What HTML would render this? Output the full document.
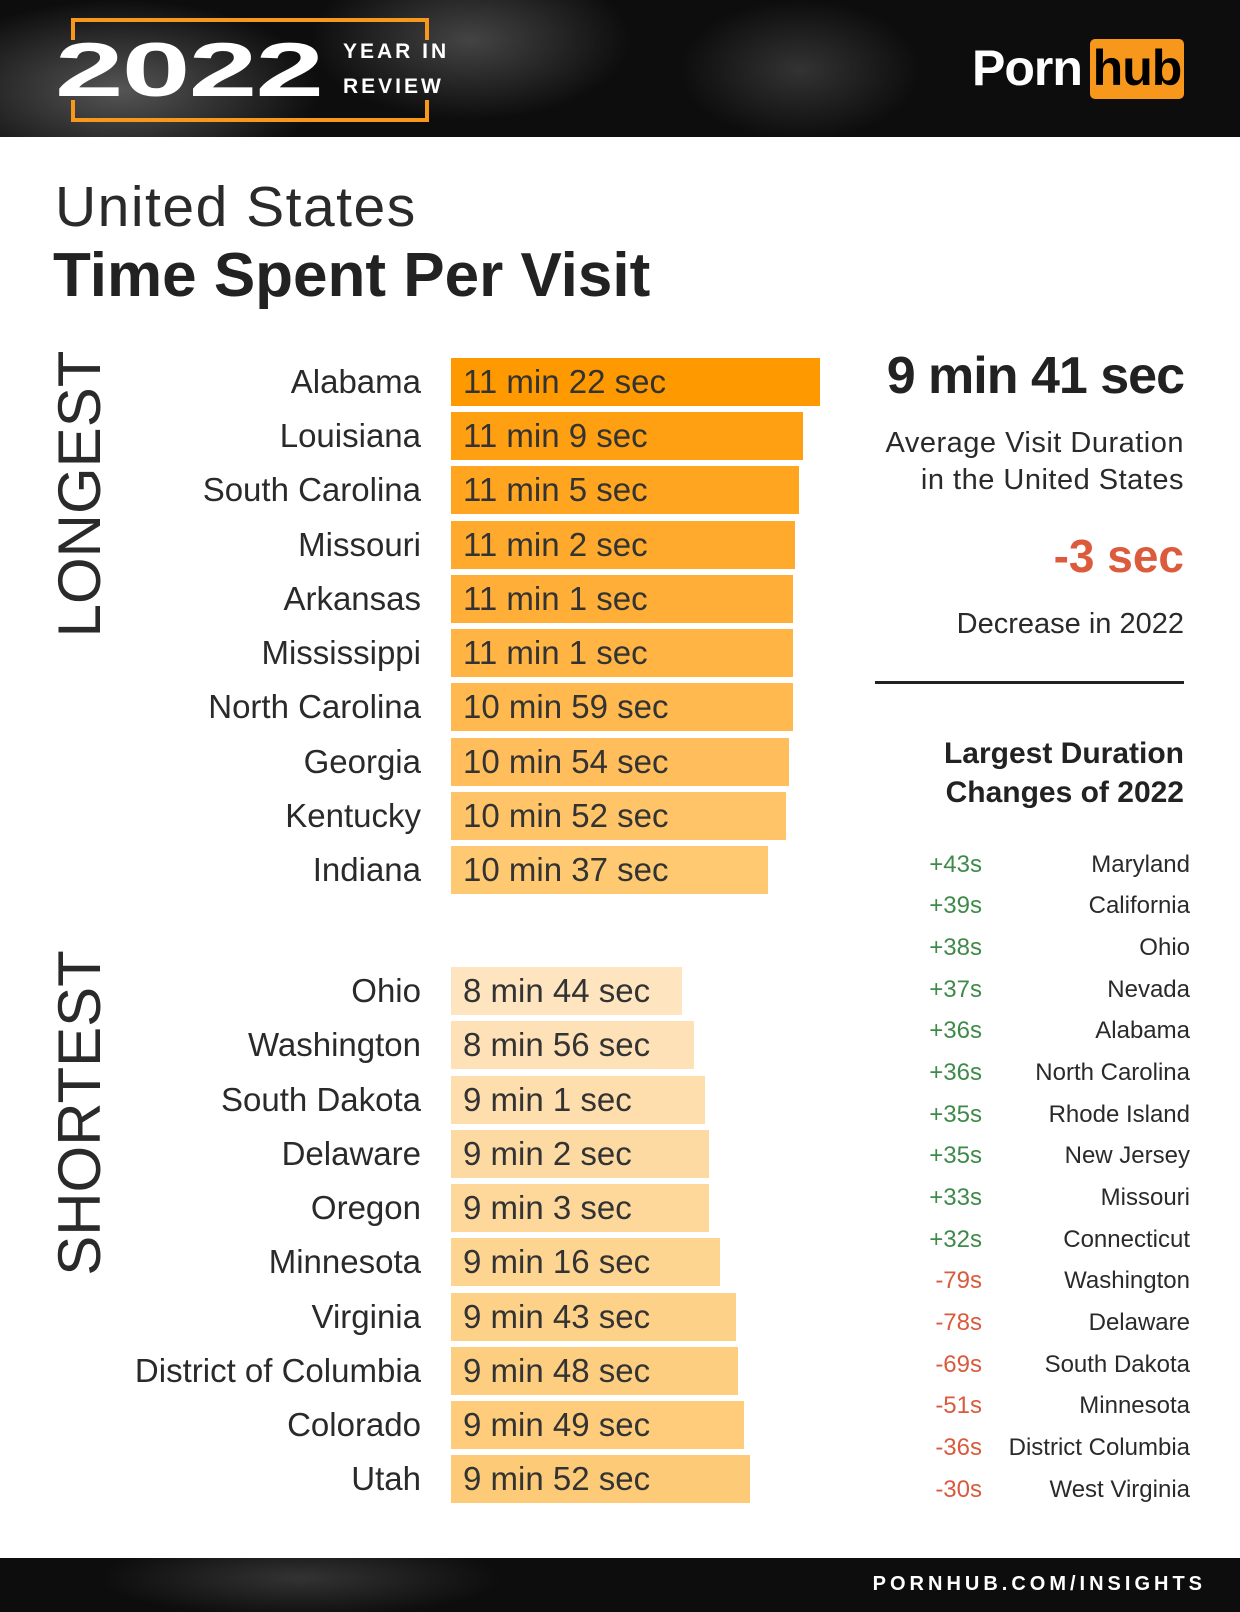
<!DOCTYPE html>
<html><head><meta charset="utf-8"><style>
*{margin:0;padding:0;box-sizing:border-box}
body{width:1240px;height:1612px;background:#fff;font-family:"Liberation Sans",sans-serif;color:#2a2a2a;position:relative;overflow:hidden}
.abs{position:absolute;white-space:nowrap}
.hdr{position:absolute;left:0;top:0;width:1240px;height:137px;background:radial-gradient(ellipse 200px 90px at 120px 90px,#555,transparent),radial-gradient(ellipse 160px 80px at 470px 40px,#444,transparent),radial-gradient(ellipse 120px 70px at 800px 70px,#333,transparent),#0d0d0d}
.ftr{position:absolute;left:0;top:1558px;width:1240px;height:54px;background:radial-gradient(ellipse 200px 40px at 300px 20px,#333,transparent),#0d0d0d}
.bar{position:absolute;left:451px;height:48px;font-size:33px;line-height:48px;padding-left:12px;color:#333;white-space:nowrap}
.st{position:absolute;right:819px;font-size:33px;line-height:48px;color:#2a2a2a;white-space:nowrap}
.ch{position:absolute;right:258px;font-size:24px;line-height:30px}
.cs{position:absolute;right:50px;font-size:24px;line-height:30px;color:#2a2a2a;white-space:nowrap}
.g{color:#3f8a4a}.r{color:#d95a3c}
.ob{position:absolute;background:#f7981d}
</style></head><body>
<div class="hdr"></div>
<div class="ob" style="left:71px;top:18px;width:358px;height:4px"></div>
<div class="ob" style="left:71px;top:118px;width:358px;height:4px"></div>
<div class="ob" style="left:71px;top:18px;width:4px;height:22px"></div>
<div class="ob" style="left:71px;top:100px;width:4px;height:22px"></div>
<div class="ob" style="left:425px;top:18px;width:4px;height:22px"></div>
<div class="ob" style="left:425px;top:100px;width:4px;height:22px"></div>
<div class="abs" style="left:55px;top:33px;font-size:76px;font-weight:bold;color:#fff;line-height:76px;letter-spacing:-1px;transform-origin:0 0;transform:scaleX(1.62)">2022</div>
<div class="abs" style="left:343px;top:40px;font-size:21px;font-weight:bold;color:#fff;letter-spacing:3px;line-height:24px">YEAR IN</div>
<div class="abs" style="left:343px;top:75px;font-size:21px;font-weight:bold;color:#fff;letter-spacing:3px;line-height:24px">REVIEW</div>
<div class="abs" style="left:972px;top:40px;font-size:50px;font-weight:bold;color:#fff;line-height:56px;letter-spacing:-1px">Porn</div>
<div class="abs" style="left:1090px;top:39px;width:94px;height:60px;background:#f7981d;border-radius:5px;font-size:50px;font-weight:bold;color:#000;line-height:58px;text-align:center;letter-spacing:-1px">hub</div>

<div class="abs" style="left:55px;top:172px;font-size:57px;line-height:70px;color:#2a2a2a;letter-spacing:1.5px">United States</div>
<div class="abs" style="left:53px;top:240px;font-size:62px;font-weight:bold;line-height:72px;color:#222;letter-spacing:0">Time Spent Per Visit</div>

<div class="abs" style="left:80px;top:494px;transform:translate(-50%,-50%) rotate(-90deg);font-size:60px;line-height:60px;color:#2a2a2a">LONGEST</div>
<div class="abs" style="left:80px;top:1113px;transform:translate(-50%,-50%) rotate(-90deg);font-size:60px;line-height:60px;color:#2a2a2a">SHORTEST</div>

<div class="st" style="top:358px">Alabama</div><div class="bar" style="top:358px;width:369px;background:#ff9900">11 min 22 sec</div>
<div class="st" style="top:412px">Louisiana</div><div class="bar" style="top:412px;width:352px;background:#ff9f12">11 min 9 sec</div>
<div class="st" style="top:466px">South Carolina</div><div class="bar" style="top:466px;width:348px;background:#ffa51f">11 min 5 sec</div>
<div class="st" style="top:521px">Missouri</div><div class="bar" style="top:521px;width:344px;background:#ffaa2c">11 min 2 sec</div>
<div class="st" style="top:575px">Arkansas</div><div class="bar" style="top:575px;width:342px;background:#ffaf38">11 min 1 sec</div>
<div class="st" style="top:629px">Mississippi</div><div class="bar" style="top:629px;width:342px;background:#ffb444">11 min 1 sec</div>
<div class="st" style="top:683px">North Carolina</div><div class="bar" style="top:683px;width:342px;background:#ffb94f">10 min 59 sec</div>
<div class="st" style="top:738px">Georgia</div><div class="bar" style="top:738px;width:338px;background:#ffbe5b">10 min 54 sec</div>
<div class="st" style="top:792px">Kentucky</div><div class="bar" style="top:792px;width:335px;background:#ffc467">10 min 52 sec</div>
<div class="st" style="top:846px">Indiana</div><div class="bar" style="top:846px;width:317px;background:#ffc972">10 min 37 sec</div>

<div class="st" style="top:967px">Ohio</div><div class="bar" style="top:967px;width:231px;background:#fee5c0">8 min 44 sec</div>
<div class="st" style="top:1021px">Washington</div><div class="bar" style="top:1021px;width:243px;background:#fee1b6">8 min 56 sec</div>
<div class="st" style="top:1076px">South Dakota</div><div class="bar" style="top:1076px;width:254px;background:#fedeac">9 min 1 sec</div>
<div class="st" style="top:1130px">Delaware</div><div class="bar" style="top:1130px;width:258px;background:#fedaa3">9 min 2 sec</div>
<div class="st" style="top:1184px">Oregon</div><div class="bar" style="top:1184px;width:258px;background:#fed79a">9 min 3 sec</div>
<div class="st" style="top:1238px">Minnesota</div><div class="bar" style="top:1238px;width:269px;background:#fed491">9 min 16 sec</div>
<div class="st" style="top:1293px">Virginia</div><div class="bar" style="top:1293px;width:285px;background:#fed188">9 min 43 sec</div>
<div class="st" style="top:1347px">District of Columbia</div><div class="bar" style="top:1347px;width:287px;background:#fece80">9 min 48 sec</div>
<div class="st" style="top:1401px">Colorado</div><div class="bar" style="top:1401px;width:293px;background:#fecc7b">9 min 49 sec</div>
<div class="st" style="top:1455px">Utah</div><div class="bar" style="top:1455px;width:299px;background:#fdcb78">9 min 52 sec</div>

<div class="abs" style="right:56px;top:346px;font-size:52px;font-weight:bold;color:#222;line-height:60px;letter-spacing:-1px">9 min 41 sec</div>
<div class="abs" style="right:56px;top:425px;font-size:29px;line-height:37px;text-align:right;letter-spacing:0.5px">Average Visit Duration<br>in the United States</div>
<div class="abs" style="right:56px;top:528px;font-size:46px;font-weight:bold;color:#dc5b3d;line-height:56px">-3 sec</div>
<div class="abs" style="right:56px;top:606px;font-size:29px;line-height:36px">Decrease in 2022</div>
<div class="abs" style="left:875px;top:681px;width:309px;height:3px;background:#222"></div>
<div class="abs" style="right:56px;top:734px;font-size:30px;font-weight:bold;line-height:39px;text-align:right;color:#222">Largest Duration<br>Changes of 2022</div>

<div class="ch g" style="top:850px">+43s</div><div class="cs" style="top:850px">Maryland</div>
<div class="ch g" style="top:891px">+39s</div><div class="cs" style="top:891px">California</div>
<div class="ch g" style="top:933px">+38s</div><div class="cs" style="top:933px">Ohio</div>
<div class="ch g" style="top:975px">+37s</div><div class="cs" style="top:975px">Nevada</div>
<div class="ch g" style="top:1016px">+36s</div><div class="cs" style="top:1016px">Alabama</div>
<div class="ch g" style="top:1058px">+36s</div><div class="cs" style="top:1058px">North Carolina</div>
<div class="ch g" style="top:1100px">+35s</div><div class="cs" style="top:1100px">Rhode Island</div>
<div class="ch g" style="top:1141px">+35s</div><div class="cs" style="top:1141px">New Jersey</div>
<div class="ch g" style="top:1183px">+33s</div><div class="cs" style="top:1183px">Missouri</div>
<div class="ch g" style="top:1225px">+32s</div><div class="cs" style="top:1225px">Connecticut</div>
<div class="ch r" style="top:1266px">-79s</div><div class="cs" style="top:1266px">Washington</div>
<div class="ch r" style="top:1308px">-78s</div><div class="cs" style="top:1308px">Delaware</div>
<div class="ch r" style="top:1350px">-69s</div><div class="cs" style="top:1350px">South Dakota</div>
<div class="ch r" style="top:1391px">-51s</div><div class="cs" style="top:1391px">Minnesota</div>
<div class="ch r" style="top:1433px">-36s</div><div class="cs" style="top:1433px">District Columbia</div>
<div class="ch r" style="top:1475px">-30s</div><div class="cs" style="top:1475px">West Virginia</div>

<div class="ftr"></div>
<div class="abs" style="right:34px;top:1570px;font-size:20px;font-weight:bold;color:#fff;letter-spacing:4px;line-height:28px">PORNHUB.COM/INSIGHTS</div>
</body></html>
